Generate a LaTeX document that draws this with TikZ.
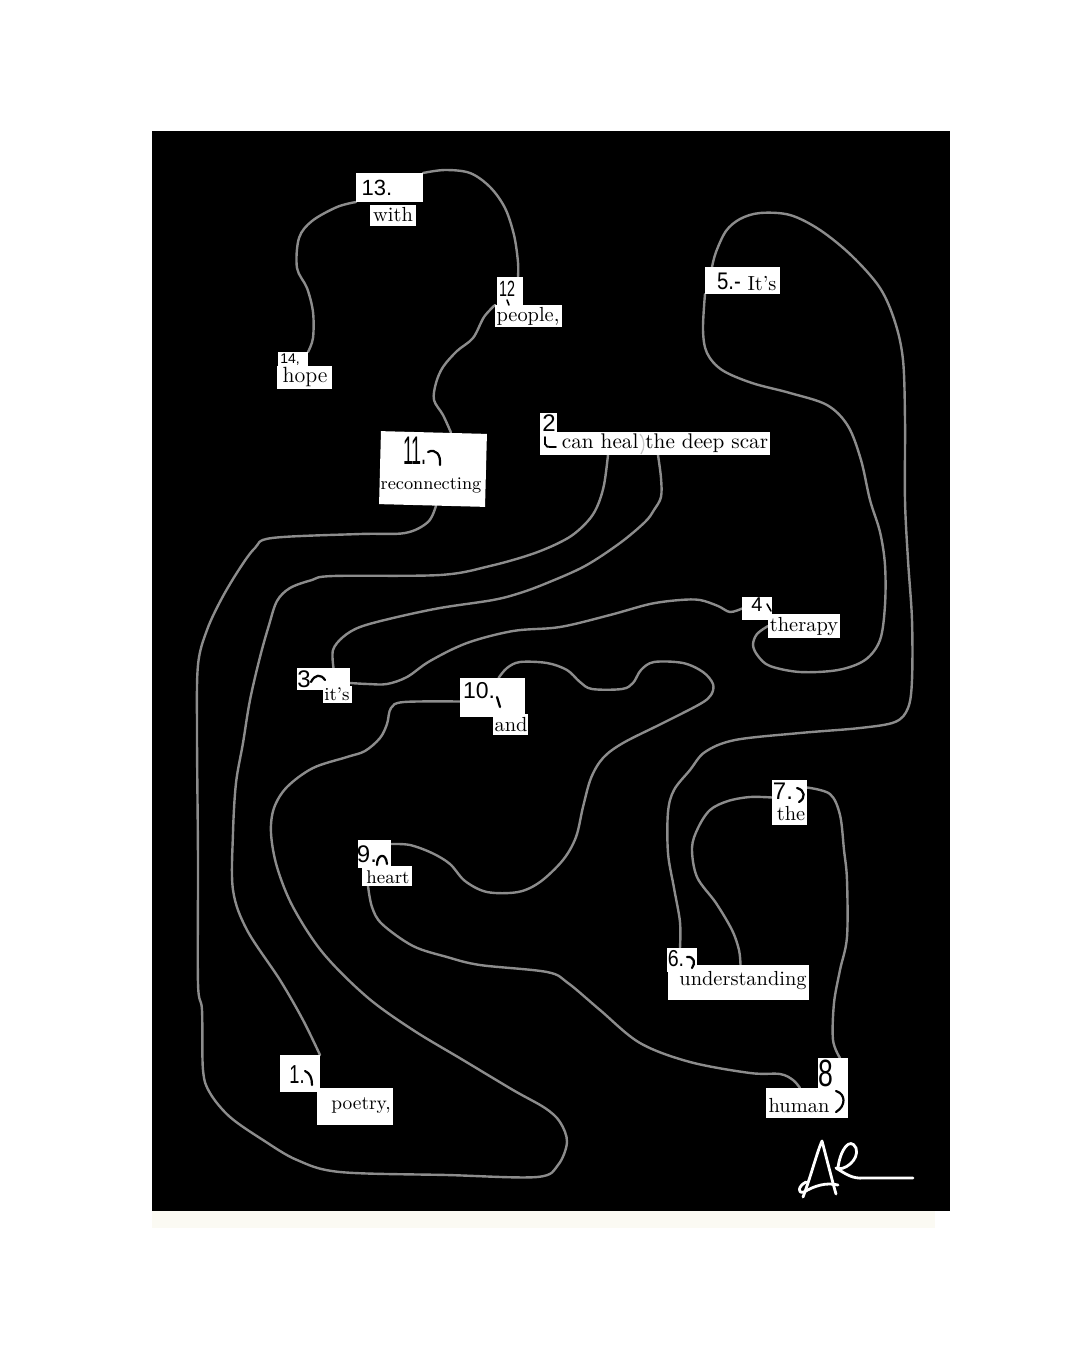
\documentclass[tikz,border=0pt]{standalone}
\usepackage{fontspec}
\newfontfamily\hand{Liberation Sans}
\usetikzlibrary{calc}
\pgfdeclarelayer{bg}
\pgfsetlayers{bg,main}
\definecolor{trailgray}{HTML}{8C8C8C}
\definecolor{palestrip}{HTML}{FBFAF3}
\begin{document}
\begin{tikzpicture}[x=0.5pt,y=-0.5pt,
 paper/.style={fill=white, inner sep=0pt, outer sep=0pt},
 word/.style={inner sep=0pt, text=black, font=\fontsize{10.2}{12}\selectfont},
 num/.style={inner sep=0pt, text=black},
 trail/.style={draw=trailgray, line width=1.2pt, line cap=round, line join=round},
 pen/.style={draw=black, line width=1.1pt, line cap=round},
 sig/.style={draw=white, line width=1.4pt, line cap=round, line join=round},
 fold/.style={draw=gray!45, line width=0.6pt}]
\useasboundingbox (0,0) rectangle (1080,1350);
% ---- paper pieces ----
\node[paper, minimum width=33.5pt, minimum height=14.5pt] (p13) at (389.5,187.5) {};
\node[paper, minimum width=23pt, minimum height=10.5pt] (pwith) at (393,215.5) {};
\node[paper, minimum width=13pt, minimum height=15.5pt] (p12) at (510,292.5) {};
\node[paper, minimum width=33.5pt, minimum height=11pt] (ppeople) at (528.5,316) {};
\node[paper, minimum width=15pt, minimum height=8pt] (p14) at (293,360) {};
\node[paper, minimum width=27.5pt, minimum height=11.5pt] (phope) at (304.5,377.5) {};
\node[paper, minimum width=53pt, minimum height=36.5pt, rotate=-1.5] (p11) at (433,469) {};
\node[paper, minimum width=8.5pt, minimum height=10.5pt] (p2a) at (548.5,423.5) {};
\node[paper, minimum width=115pt, minimum height=11.5pt] (p2b) at (655,443.5) {};
\node[paper, minimum width=37.5pt, minimum height=13.5pt] (p5) at (742.5,280.5) {};
\node[paper, minimum width=15pt, minimum height=11.5pt] (p4) at (757,608.5) {};
\node[paper, minimum width=36pt, minimum height=12pt] (ptherapy) at (804,626) {};
\node[paper, minimum width=26.5pt, minimum height=11pt] (p3) at (323.5,679) {};
\node[paper, minimum width=14.5pt, minimum height=8.5pt] (pits) at (337.5,694.5) {};
\node[paper, minimum width=32.5pt, minimum height=19.5pt] (p10) at (492.5,697.5) {};
\node[paper, minimum width=17.5pt, minimum height=10.5pt] (pand) at (510.5,724.5) {};
\node[paper, minimum width=16.5pt, minimum height=14pt] (p9) at (374.5,854) {};
\node[paper, minimum width=25pt, minimum height=10pt] (pheart) at (387,876) {};
\node[paper, minimum width=17.5pt, minimum height=22.5pt] (p7) at (789.5,802.5) {};
\node[paper, minimum width=15pt, minimum height=12pt] (p6) at (682,960) {};
\node[paper, minimum width=70.5pt, minimum height=17.5pt] (punder) at (738.5,982.5) {};
\node[paper, minimum width=20pt, minimum height=18.5pt] (p1) at (300,1073.5) {};
\node[paper, minimum width=38pt, minimum height=18.5pt] (ppoetry) at (355,1106.5) {};
\node[paper, minimum width=15pt, minimum height=16pt] (p8) at (833,1074) {};
\node[paper, minimum width=41pt, minimum height=15pt] (phuman) at (807,1103) {};
% ---- printed words ----
\node[word] (wwith) at (393,215) {with};
\node[word] (wpeople) at (528,316) {people,};
\node[word, font=\fontsize{11}{12}\selectfont] (whope) at (305,377) {hope};
\node[word, font=\fontsize{8.9}{10}\selectfont] (wreconnecting) at (431,485) {reconnecting};
\node[word, font=\fontsize{10.6}{12}\selectfont] (wscar) at (665,443) {can heal the deep scar};
\node[word] (wIts) at (762,284) {It’s};
\node[word] (wtherapy) at (804,627) {therapy};
\node[word, font=\fontsize{9.2}{11}\selectfont] (wits) at (337,694) {it’s};
\node[word] (wand) at (511,725) {and};
\node[word, font=\fontsize{9.2}{11}\selectfont] (wheart) at (388,877) {heart};
\node[word] (wthe) at (791,814) {the};
\node[word] (wunder) at (743,981) {understanding};
\node[word, font=\fontsize{9.7}{11}\selectfont] (wpoetry) at (361,1106) {poetry,};
\node[word] (whuman) at (799,1106) {human};
% ---- hand-written numbers ----
\node[num, font=\hand\fontsize{11}{12}\selectfont] (n13) at (377,188) {13.};
\node[num, font=\hand\fontsize{11}{12}\selectfont] (n12) at (507,289) {\scalebox{0.65}[1]{12}};
\node[num, font=\hand\fontsize{7}{8}\selectfont] (n14) at (290,360) {14,};
\node[num, font=\hand\fontsize{20}{22}\selectfont] (n11) at (415,451) {\scalebox{0.45}[1]{11.}};
\node[num, font=\hand\fontsize{12}{13}\selectfont] (n2) at (549,423) {2};
\node[num, font=\hand\fontsize{12}{13}\selectfont] (n5) at (729,281) {\scalebox{0.85}[1]{5.-}};
\node[num, font=\hand\fontsize{10}{11}\selectfont] (n4) at (757,605) {4};
\node[num, font=\hand\fontsize{12}{13}\selectfont] (n3) at (304,679) {3};
\node[num, font=\hand\fontsize{11.5}{12}\selectfont] (n10) at (479,691) {10.};
\node[num, font=\hand\fontsize{12}{13}\selectfont] (n9) at (367,854) {9.};
\node[num, font=\hand\fontsize{12}{13}\selectfont] (n7) at (783,791) {7.};
\node[num, font=\hand\fontsize{11.5}{12}\selectfont] (n6) at (676,959) {\scalebox{0.85}[1]{6.}};
\node[num, font=\hand\fontsize{13}{14}\selectfont] (n1) at (297,1075) {\scalebox{0.7}[1]{1.}};
\node[num, font=\hand\fontsize{19}{20}\selectfont] (n8) at (826,1073) {\scalebox{0.7}[1]{8}};
% ---- pen hooks ----
\draw[pen] (428,452) .. controls (436,448) and (441,455) .. (440,465);
\draw[pen, line width=0.9pt] (545,437) -- (545,444) .. controls (546,447) .. (556,447);
\draw[pen, line width=0.8pt] (507,300) -- (509,305);
\draw[pen, line width=0.8pt] (767,604) -- (771,611);
\draw[pen] (311,682) .. controls (315,674) and (321,674) .. (325,680);
\draw[pen] (497,697) -- (500,707);
\draw[pen] (377,865) .. controls (377,854) and (386,852) .. (387,864);
\draw[pen] (797,788) .. controls (805,790) and (806,798) .. (799,802);
\draw[pen] (687,957) .. controls (694,956) and (696,963) .. (692,968);
\draw[pen] (305,1071) .. controls (310,1073) and (312,1078) .. (312,1085);
\draw[pen] (836,1091) .. controls (846,1094) and (846,1106) .. (836,1112);
\draw[fold] (640,434) .. controls (645,440) and (645,448) .. (641,454);
% ---- signature ----
\draw[sig] (803,1197) .. controls (811,1176) and (817,1152) .. (822,1141) .. controls (826,1156) and (832,1180) .. (836,1194);
\draw[sig] (806,1182) .. controls (798,1186) and (797,1194) .. (804,1192) .. controls (814,1186) and (826,1182) .. (838,1185);
\draw[sig] (838,1168) .. controls (840,1150) and (850,1136) .. (856,1148) .. controls (860,1160) and (843,1172) .. (836,1168) .. controls (846,1174) and (852,1179) .. (864,1178) -- (913,1178);
% ---- background and trails ----
\begin{pgfonlayer}{bg}
\fill[white] (0,0) rectangle (1080,1350);
\fill[palestrip] (152,1211) rectangle (935,1228);
\fill[black] (152,131) rectangle (950,1211);
\draw[trail] plot[smooth, tension=0.55] coordinates {(p13.north east) (445,170) (470,173) (490,187) (505,208) (514,235) (518,262) ($(p12.north)+(8,0)$)};
\draw[trail] plot[smooth, tension=0.55] coordinates {(p13.south west) (337,207) (312,221) (299,238) (297,268) (307,288) (313,312) (313,338) (p14.north east)};
\draw[trail] plot[smooth, tension=0.55] coordinates {(ppeople.north west) (484,317) (473,338) (457,351) (443,367) (436,383) (434,400) (443,415) ($(p11.north)+(17,0)$)};
\draw[trail] plot[smooth, tension=0.55] coordinates {($(p11.south)+(4,0)$) (428,522) (405,533) (360,534) (272,538) (255,548) (240,568) (222,598) (207,630) (198,665) (197,733) (198,860) (198,983) (202,1010) (203,1070) (210,1093) (230,1117) (263,1140) (297,1160) (340,1172) (447,1175) (537,1177) (558,1165) (567,1142) (560,1122) (545,1108) (513,1090) (463,1060) (413,1030) (367,997) (323,953) (293,907) (277,867) (271,833) (274,808) (287,787) (313,768) (347,757) (365,751) (380,738) (387,724) (391,708) (404,702) ($(p10.west)+(0,4)$)};
\draw[trail] plot[smooth, tension=0.55] coordinates {($(p10.north)+(6,0)$) (507,668) (520,662) (547,663) (567,670) (580,682) (592,689) (622,689) (633,683) (641,670) (654,662) (683,663) (703,672) (713,684) (711,695) (700,704) (663,723) (623,743) (603,758) (591,778) (583,807) (576,837) (563,860) (540,882) (518,892) (487,892) (465,881) (450,864) (432,853) (410,845) ($(p9.east)+(0,-10)$)};
\draw[trail] plot[smooth, tension=0.55] coordinates {($(pheart.south west)+(6,0)$) (372,907) (382,924) (413,946) (447,957) (480,965) (547,972) (568,983) (600,1010) (640,1043) (690,1062) (750,1073) (780,1074) (793,1080) ($(phuman.north)+(-7,0)$)};
\draw[trail] plot[smooth, tension=0.55] coordinates {($(p8.north)+(7,0)$) (833,1040) (834,1003) (840,970) (847,937) (847,880) (844,850) (840,815) (830,794) ($(p7.east)+(0,-15)$)};
\draw[trail] plot[smooth, tension=0.55] coordinates {($(p7.west)+(0,-5)$) (750,797) (728,801) (710,810) (698,828) (692,848) (697,877) (716,903) (732,930) (739,950) ($(punder.north)+(2,0)$)};
\draw[trail] plot[smooth, tension=0.55] coordinates {($(p6.north)+(-2,0)$) (680,922) (674,888) (668,853) (668,812) (674,790) (690,770) (705,752) (735,740) (800,733) (860,728) (895,722) (908,708) (912,680) (912,620) (908,560) (905,500) (905,420) (903,360) (895,322) (880,288) (852,256) (820,230) (790,215) (760,213) (740,219) (726,231) (716,252) ($(p5.north west)+(7,0)$)};
\draw[trail] plot[smooth, tension=0.55] coordinates {(p5.south west) (703,330) (707,353) (722,370) (752,383) (790,393) (827,405) (848,426) (861,460) (870,500) (880,532) (885,565) (885,605) (880,640) (865,660) (838,670) (800,672) (770,666) (758,656) (753,645) (757,634) (ptherapy.west)};
\draw[trail] plot[smooth, tension=0.55] coordinates {(p4.west) (730,612) (718,606) (700,600) (680,600) (650,604) (610,615) (560,627) (513,631) (467,643) (430,661) (407,677) (387,684) (368,684) ($(p3.east)+(0,4)$)};
\draw[trail] plot[smooth, tension=0.55] coordinates {($(p3.north)+(10,0)$) (333,650) (343,637) (360,627) (393,618) (440,608) (493,600) (520,593) (547,583) (585,566) (620,543) (645,522) (654,510) (661,497) (661,478) ($(p2b.south)+(3,0)$)};
\draw[trail] plot[smooth, tension=0.55] coordinates {($(p2b.south)+(-47,0)$) (604,485) (597,507) (587,522) (568,538) (535,553) (490,566) (440,575) (333,576) (312,580) (290,588) (277,601) (269,625) (260,657) (250,700) (243,743) (236,783) (233,833) (233,890) (247,930) (280,980) (303,1020) (p1.north east)};
\end{pgfonlayer}
\end{tikzpicture}
\end{document}
